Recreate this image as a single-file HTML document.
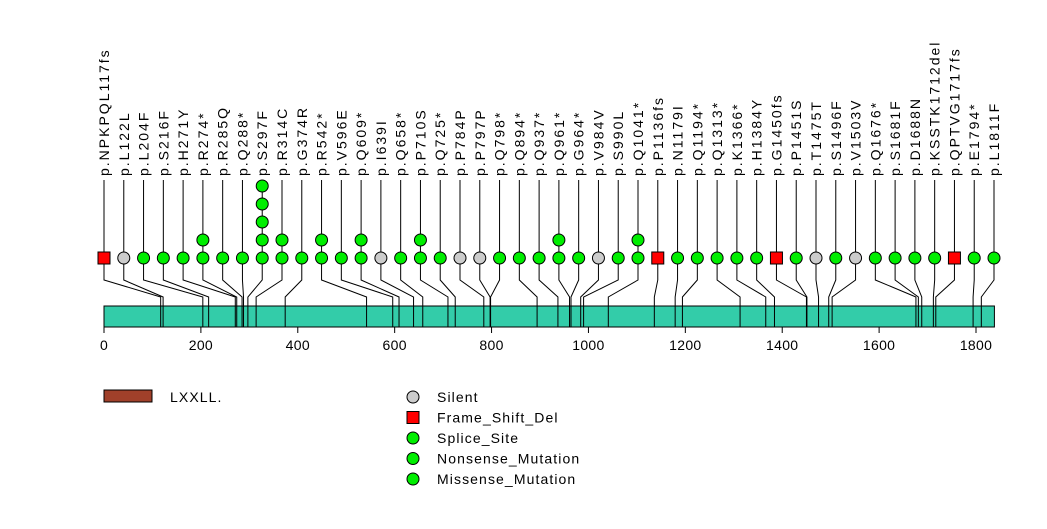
<!DOCTYPE html>
<html><head><meta charset="utf-8"><style>
body{margin:0;background:#fff}
svg text{font-family:"Liberation Sans",sans-serif;}
</style></head><body>
<svg id="c" width="1047" height="524" xmlns="http://www.w3.org/2000/svg"></svg>
<script>
const labels=["p.NPKPQL117fs","p.L122L","p.L204F","p.S216F","p.H271Y","p.R274*","p.R285Q","p.Q288*","p.S297F","p.R314C","p.G374R","p.R542*","p.V596E","p.Q609*","p.I639I","p.Q658*","p.P710S","p.Q725*","p.P784P","p.P797P","p.Q798*","p.Q894*","p.Q937*","p.Q961*","p.G964*","p.V984V","p.S990L","p.Q1041*","p.P1136fs","p.N1179I","p.Q1194*","p.Q1313*","p.K1366*","p.H1384Y","p.G1450fs","p.P1451S","p.T1475T","p.S1496F","p.V1503V","p.Q1676*","p.S1681F","p.D1688N","p.KSSTK1712del","p.QPTVG1717fs","p.E1794*","p.L1811F"];
const positions=[117,122,204,216,271,274,285,288,297,314,374,542,596,609,639,658,710,725,784,797,798,894,937,961,964,984,990,1041,1136,1179,1194,1313,1366,1384,1450,1451,1475,1496,1503,1676,1681,1688,1712,1717,1794,1811];
const counts=[1,1,1,1,1,2,1,1,5,2,1,2,1,2,1,1,2,1,1,1,1,1,1,2,1,1,1,2,1,1,1,1,1,1,1,1,1,1,1,1,1,1,1,1,1,1];
const types=["F","S","M","M","M","N","M","N","M","M","M","N","M","N","S","N","M","N","S","S","N","N","N","N","N","S","M","N","F","M","N","N","N","M","F","M","S","M","S","N","M","M","M","F","N","M"];
const ticks=[0,200,400,600,800,1000,1200,1400,1600,1800];
const protLen=1838;
const NS="http://www.w3.org/2000/svg";
const svg=document.getElementById('c');
const ax=v=>104+v*(872/1800);
function el(t,a,p){const e=document.createElementNS(NS,t);for(const k in a)e.setAttribute(k,a[k]);(p||svg).appendChild(e);return e;}
const bar=el('rect',{x:104,y:306,width:ax(protLen)-104,height:21,fill:'#33cca9',stroke:'#000','stroke-width':1});


const axl=el('line',{x1:104,y1:327,x2:ax(1800),y2:327,stroke:'#000'});


ticks.forEach(t=>{
  el('line',{x1:ax(t),y1:327,x2:ax(t),y2:333,stroke:'#000'});
  const tx=el('text',{x:ax(t),y:350,'text-anchor':'middle','font-size':14,'letter-spacing':0.3});
  tx.textContent=t;
  
  
});
const n=labels.length;
labels.forEach((lab,i)=>{
  const x=104+i*(890/(n-1));
  const px=ax(positions[i]);
  const g=el('g',{});
  
  
  el('path',{d:`M${px},327 L${px},297 L${x},280 L${x},258`,fill:'none',stroke:'#000','stroke-width':1},g);
  el('line',{x1:x,y1:180,x2:x,y2:258,stroke:'#000'},g);
  for(let k=0;k<counts[i];k++){
    const y=258-k*18;
    if(types[i]==='F') el('rect',{x:x-6,y:y-6,width:12,height:12,fill:'#ff0000',stroke:'#000'},g);
    else el('circle',{cx:x,cy:y,r:6,fill:types[i]==='S'?'#cccccc':'#00ee00',stroke:'#000'},g);
  }
  const t=el('text',{x:0,y:0,'font-size':14,'letter-spacing':2,transform:`translate(${x+5},176) rotate(-90)`},g);
  t.textContent=lab;
  
  
});
const lg=el('g',{});


el('rect',{x:104,y:390,width:48,height:12,fill:'#a0402a',stroke:'#000'},lg);
const lt=el('text',{x:170,y:402,'font-size':14,'letter-spacing':1.1},lg);lt.textContent='LXXLL.';
const legItems=[["Silent","S"],["Frame_Shift_Del","F"],["Splice_Site","M"],["Nonsense_Mutation","M"],["Missense_Mutation","M"]];
legItems.forEach((it,j)=>{
  const y=397+j*20.5;
  if(it[1]==='F') el('rect',{x:407,y:y-6,width:12,height:12,fill:'#ff0000',stroke:'#000'},lg);
  else el('circle',{cx:413,cy:y,r:6,fill:it[1]==='S'?'#cccccc':'#00ee00',stroke:'#000'},lg);
  const t=el('text',{x:437,y:y+5,'font-size':14,'letter-spacing':1.1},lg);
  t.textContent=it[0];
  
  
});
</script>
</body></html>
